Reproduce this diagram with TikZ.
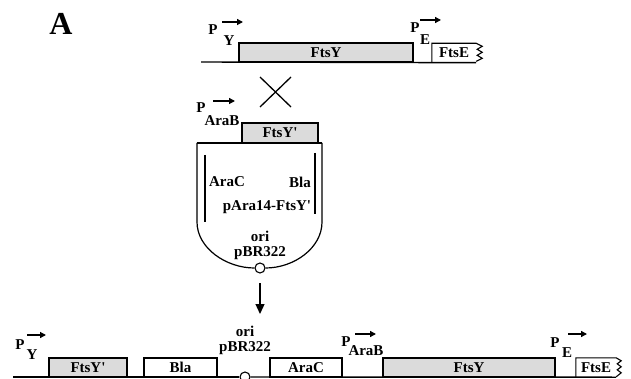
\documentclass[tikz,border=0pt]{standalone}
\usepackage{fontspec}
\setmainfont{Liberation Serif}
\usetikzlibrary{arrows.meta}
\begin{document}
\begin{tikzpicture}[x=1pt,y=-1pt,
  lbl/.style={font=\bfseries\fontsize{15}{17}\selectfont, inner sep=0pt},
  gene/.style={lbl, draw, line width=1.1pt, minimum height=19pt},
  shadedgene/.style={gene, fill=gray!28},
  bare/.style={lbl, minimum height=19pt},
  dna/.style={line width=1.4pt},
  prom/.style={line width=1.3pt, -{Triangle[length=6pt,width=6pt]}},
  oricirc/.style={circle, draw, fill=white, line width=1.1pt, minimum size=10pt, inner sep=0pt}]
\useasboundingbox (0,0) rectangle (631,379);

% label A
\node[font=\bfseries\fontsize{32}{34}\selectfont, inner sep=0pt] (labA) at (61,24) {A};

% ---------- top chromosome ----------
\node[shadedgene, minimum width=174pt] (ftsY) at (326,52.5) {FtsY};
\node[bare, minimum width=44pt] (ftsE) at (454,53) {FtsE};
\coordinate (topL) at (201,62);
\draw[dna] (topL) -- (ftsE.south east);
\draw[line width=1.1pt] (ftsE.south west) -- (ftsE.north west) -- (ftsE.north east)
  -- ++(6,3) -- ++(-5,3) -- ++(5,3) -- ++(-5,3) -- ++(5,3) -- ++(-6,3);
\node[lbl] (pY) at (213,30) {P};
\node[lbl] (pYs) at (229,41) {Y};
\coordinate (pYa) at (222,22); \coordinate (pYb) at (243,22);
\draw[prom] (pYa) -- (pYb);
\node[lbl] (pE) at (415,28) {P};
\node[lbl] (pEs) at (425,40) {E};
\coordinate (pEa) at (420,20); \coordinate (pEb) at (441,20);
\draw[prom] (pEa) -- (pEb);

% cross
\coordinate (x1) at (260,77); \coordinate (x2) at (291,107);
\coordinate (x3) at (260,107); \coordinate (x4) at (291,77);
\draw[line width=1.3pt] (x1) -- (x2) (x3) -- (x4);

% ---------- plasmid ----------
\node[shadedgene, minimum width=76pt, minimum height=20pt] (ftsYp) at (280,133) {FtsY\textquotesingle};
\node[lbl] (pA) at (201,108) {P};
\node[lbl] (pAs) at (222,121) {AraB};
\coordinate (pAa) at (213,101); \coordinate (pAb) at (235,101);
\draw[prom] (pAa) -- (pAb);
\node[oricirc] (ori1) at (260,268) {};
\coordinate (plTL) at (197,143); \coordinate (plTR) at (322,143);
\draw[line width=1.2pt] (plTL) -- (plTR);
\draw[line width=1.2pt] (plTL) -- (197,222) .. controls (197,248) and (226,268) .. (ori1.west);
\draw[line width=1.2pt] (plTR) -- (322,222) .. controls (322,248) and (294,268) .. (ori1.east);
\draw[line width=1.1pt] (205,155) -- (205,222);
\draw[line width=1.1pt] (315,153) -- (315,214);
\node[lbl] (araC1) at (227,182) {AraC};
\node[lbl] (bla1) at (300,182) {Bla};
\node[lbl] (pname) at (267,207) {pAra14-FtsY\textquotesingle};
\node[lbl] (oriT1) at (260,236) {ori};
\node[lbl] (pbr1) at (260,253) {pBR322};

% down arrow
\coordinate (dA) at (260,283); \coordinate (dB) at (260,314);
\draw[line width=1.3pt, -{Triangle[length=10pt,width=9pt]}] (dA) -- (dB);

% ---------- bottom chromosome ----------
\node[shadedgene, minimum width=78pt] (bFtsYp) at (88,367.5) {FtsY\textquotesingle};
\node[gene, minimum width=73pt] (bBla) at (180.5,367.5) {Bla};
\node[gene, minimum width=72pt] (bAraC) at (306,367.5) {AraC};
\node[shadedgene, minimum width=172pt] (bFtsY) at (469,367.5) {FtsY};
\node[bare, minimum width=40pt] (bFtsE) at (596,367.5) {FtsE};
\node[oricirc] (ori2) at (245,377) {};
\coordinate (botL) at (13,377);
\draw[dna] (botL) -- (ori2.west);
\draw[dna] (ori2.east) -- (bFtsE.south east);
\draw[line width=1.1pt] (bFtsE.south west) -- (bFtsE.north west) -- (bFtsE.north east)
  -- ++(5,3) -- ++(-4,3) -- ++(4,3) -- ++(-4,3) -- ++(4,3) -- ++(-5,4);
\node[lbl] (oriT2) at (245,331) {ori};
\node[lbl] (pbr2) at (245,348) {pBR322};
\node[lbl] (bpY) at (20,345) {P};
\node[lbl] (bpYs) at (32,355) {Y};
\coordinate (bpYa) at (27,335); \coordinate (bpYb) at (46,335);
\draw[prom] (bpYa) -- (bpYb);
\node[lbl] (bpA) at (346,342) {P};
\node[lbl] (bpAs) at (366,351) {AraB};
\coordinate (bpAa) at (355,334); \coordinate (bpAb) at (376,334);
\draw[prom] (bpAa) -- (bpAb);
\node[lbl] (bpE) at (555,343) {P};
\node[lbl] (bpEs) at (567,353) {E};
\coordinate (bpEa) at (568,334); \coordinate (bpEb) at (587,334);
\draw[prom] (bpEa) -- (bpEb);
\end{tikzpicture}
\end{document}
